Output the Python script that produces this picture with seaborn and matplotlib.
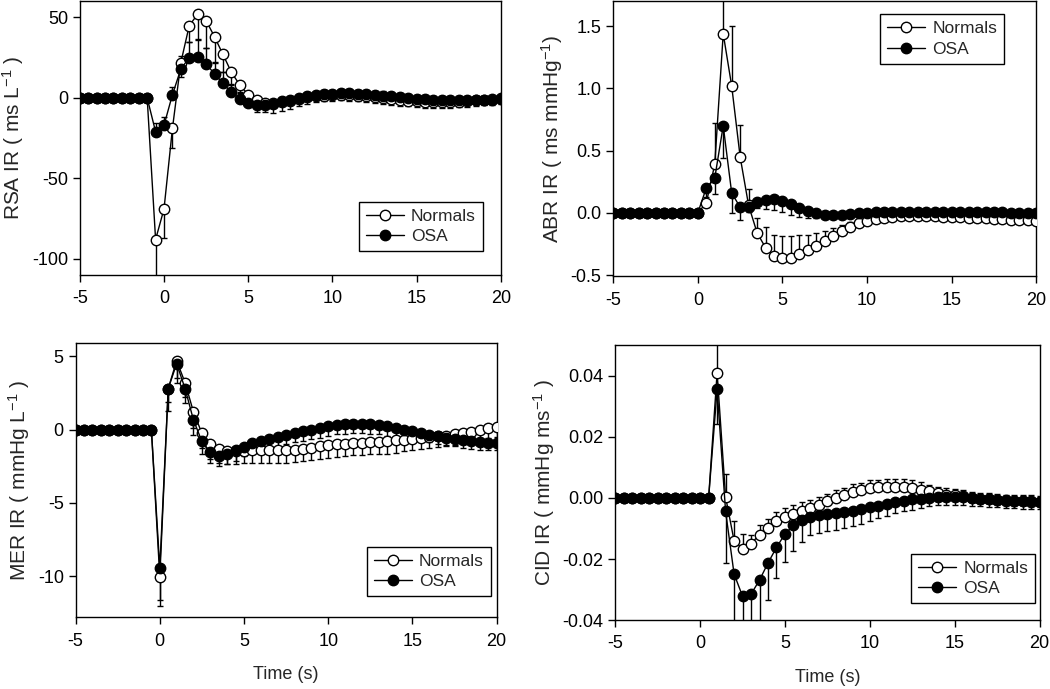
import matplotlib
matplotlib.use("Agg")
import matplotlib.pyplot as plt
import numpy as np
import seaborn as sns

# time axis, 0.5 s steps from -5 to 20 s
time = np.arange(-5, 20.25, 0.5)

# RSA impulse response (ms/L)
rsa_normals = [0, 0, 0, 0, 0, 0, 0, 0, 0,
               -88, -69, -19, 22, 45, 52, 48, 38, 27, 16, 8, 2, -1.5, -3, -3.2, -2.8, -2,
               -0.8, 0.3, 1, 1.5, 1.8, 2, 1.8, 1.5, 1, 0.4, -0.2, -0.8, -1.3, -1.8, -2.2,
               -2.5, -2.6, -2.6, -2.5, -2.3, -2, -1.6, -1.1, -0.6, -0.1]
rsa_osa = [0, 0, 0, 0, 0, 0, 0, 0, 0,
           -21, -17, 2, 18, 25, 25.5, 21, 15, 9, 3.5, -0.5, -3, -4.3, -4.3, -3.5, -2.2, -1,
           0.1, 1, 1.7, 2.2, 2.6, 2.9, 2.9, 2.7, 2.4, 2, 1.5, 1, 0.5, 0, -0.4,
           -0.8, -1.1, -1.3, -1.5, -1.6, -1.6, -1.5, -1.3, -1.1, -0.9]
rsa_normals_err = [0, 0, 0, 0, 0, 0, 0, 0, 0,
                   40, 18, 12, 9, 10, 16, 17, 16, 11, 8, 5, 4, 7, 6, 6, 5.5, 5,
                   4.5, 4, 3.5, 3.5, 3.5, 3.5, 3.5, 3.5, 3.5, 3.5, 3.5, 3.5, 3.5, 3.5, 3.5,
                   3.5, 3.5, 3.5, 3.5, 3.5, 3.5, 3.5, 3.5, 3.5, 3.5]
rsa_osa_err = [0, 0, 0, 0, 0, 0, 0, 0, 0,
               5.5, 5.3, 5, 8, 10, 11, 10, 7.5, 7, 5, 4, 3, 2.5, 2.5, 2.5, 2.5, 2.5,
               2.5, 2.5, 2.5, 2.5, 2.5, 2.5, 2.5, 2.5, 2.5, 2.5, 2.5, 2.5, 2.5, 2.5, 2.5,
               2.5, 2.5, 2.5, 2.5, 2.5, 2.5, 2.5, 2.5, 2.5, 2.5]

# ABR impulse response (ms/mmHg)
abr_normals = [0, 0, 0, 0, 0, 0, 0, 0, 0, 0, 0,
               0.08, 0.39, 1.44, 1.02, 0.45, 0.06, -0.16, -0.28, -0.345, -0.365, -0.36, -0.33,
               -0.30, -0.265, -0.225, -0.185, -0.145, -0.11, -0.083, -0.064, -0.05, -0.038,
               -0.03, -0.025, -0.022, -0.022, -0.024, -0.027, -0.03, -0.033, -0.036, -0.039,
               -0.042, -0.045, -0.048, -0.051, -0.054, -0.057, -0.06, -0.062]
abr_osa = [0, 0, 0, 0, 0, 0, 0, 0, 0, 0, 0,
           0.2, 0.28, 0.70, 0.16, 0.045, 0.045, 0.085, 0.105, 0.11, 0.095, 0.07, 0.04,
           0.012, -0.005, -0.015, -0.018, -0.017, -0.01, -0.003, 0.002, 0.005, 0.007,
           0.008, 0.008, 0.008, 0.008, 0.007, 0.007, 0.006, 0.006, 0.005, 0.005,
           0.004, 0.004, 0.003, 0.003, 0.002, 0.002, 0.002, 0.001]
abr_normals_err = [0, 0, 0, 0, 0, 0, 0, 0, 0, 0, 0,
                   0.05, 0.33, 0.5, 0.48, 0.26, 0.135, 0.12, 0.17, 0.17, 0.18, 0.17, 0.15,
                   0.12, 0.1, 0.08, 0.065, 0.05, 0.035, 0.025, 0.02, 0.015, 0.015,
                   0.015, 0.015, 0.015, 0.015, 0.015, 0.015, 0.015, 0.015, 0.015, 0.015,
                   0.015, 0.015, 0.015, 0.015, 0.015, 0.015, 0.015, 0.015]
abr_osa_err = [0, 0, 0, 0, 0, 0, 0, 0, 0, 0, 0,
               0.15, 0.13, 0.26, 0.16, 0.1, 0.04, 0.05, 0.075, 0.085, 0.09, 0.085, 0.075,
               0.05, 0.04, 0.03, 0.025, 0.02, 0.015, 0.01, 0.01, 0.01, 0.01,
               0.01, 0.01, 0.01, 0.01, 0.01, 0.01, 0.01, 0.01, 0.01, 0.01,
               0.01, 0.01, 0.01, 0.01, 0.01, 0.01, 0.01, 0.01]

# MER impulse response (mmHg/L)
mer_normals = [0, 0, 0, 0, 0, 0, 0, 0, 0, 0,
               -10.05, 2.8, 4.7, 3.2, 1.2, -0.25, -1.0, -1.35, -1.45, -1.47, -1.45, -1.42,
               -1.4, -1.4, -1.4, -1.4, -1.37, -1.3, -1.23, -1.14, -1.07, -1.0, -0.96,
               -0.91, -0.89, -0.84, -0.82, -0.78, -0.73, -0.68, -0.62, -0.57, -0.5,
               -0.45, -0.4, -0.32, -0.23, -0.16, 0.0, 0.12, 0.2]
mer_osa = [0, 0, 0, 0, 0, 0, 0, 0, 0, 0,
           -9.45, 2.8, 4.5, 2.8, 0.65, -0.8, -1.55, -1.8, -1.65, -1.42, -1.15, -0.92,
           -0.75, -0.62, -0.5, -0.36, -0.22, -0.1, 0.0, 0.11, 0.22, 0.32, 0.38,
           0.41, 0.41, 0.38, 0.32, 0.22, 0.11, 0.0, -0.12, -0.23, -0.34,
           -0.46, -0.55, -0.64, -0.73, -0.8, -0.87, -0.91, -0.92]
mer_normals_err = [0, 0, 0, 0, 0, 0, 0, 0, 0, 0,
                   2.0, 1.5, 1.2, 1.0, 1.1, 1.0, 1.0, 0.95, 0.9, 0.85, 0.85, 0.85,
                   0.85, 0.85, 0.85, 0.85, 0.85, 0.85, 0.85, 0.85, 0.85, 0.85, 0.85,
                   0.85, 0.85, 0.85, 0.85, 0.85, 0.85, 0.8, 0.8, 0.75, 0.75,
                   0.7, 0.7, 0.7, 0.7, 0.7, 0.7, 0.7, 0.7]
mer_osa_err = [0, 0, 0, 0, 0, 0, 0, 0, 0, 0,
               2.2, 0.9, 1.3, 1.0, 1.0, 0.85, 0.75, 0.7, 0.7, 0.7, 0.65, 0.65,
               0.65, 0.65, 0.65, 0.65, 0.65, 0.65, 0.65, 0.65, 0.65, 0.65, 0.65,
               0.65, 0.65, 0.65, 0.65, 0.65, 0.65, 0.6, 0.55, 0.55, 0.5,
               0.5, 0.5, 0.5, 0.5, 0.5, 0.5, 0.5, 0.5]

# CID impulse response (mmHg/ms)
cid_normals = [0, 0, 0, 0, 0, 0, 0, 0, 0, 0, 0, 0,
               0.041, 0.0003, -0.014, -0.0166, -0.015, -0.012, -0.0098, -0.0077, -0.0062,
               -0.0052, -0.0042, -0.0033, -0.0022, -0.0011, 0.0, 0.0009, 0.0019, 0.0025,
               0.0033, 0.0035, 0.0036, 0.0036, 0.0036, 0.0033, 0.0027, 0.0022, 0.0016,
               0.0011, 0.0008, 0.0005, 0.0, -0.0003, -0.0005, -0.0007, -0.0009, -0.001,
               -0.0011, -0.0012, -0.0013]
cid_osa = [0, 0, 0, 0, 0, 0, 0, 0, 0, 0, 0, 0,
           0.0355, -0.0044, -0.0249, -0.0322, -0.0315, -0.0269, -0.0213, -0.0162, -0.0118,
           -0.009, -0.0073, -0.0062, -0.0057, -0.0052, -0.0049, -0.0046, -0.0042, -0.0036,
           -0.0031, -0.0025, -0.002, -0.0014, -0.0009, -0.0005, -0.0002, 0.0, 0.0002,
           0.0003, 0.0003, 0.0002, 0.0, -0.0002, -0.0004, -0.0006, -0.0008, -0.0009,
           -0.001, -0.0011, -0.0012]
cid_normals_err = [0, 0, 0, 0, 0, 0, 0, 0, 0, 0, 0, 0,
                   0.015, 0.0076, 0.0063, 0.0048, 0.003, 0.003, 0.003, 0.003, 0.003,
                   0.003, 0.003, 0.0025, 0.0025, 0.0025, 0.0025, 0.0025, 0.0025, 0.0025,
                   0.0025, 0.0025, 0.0025, 0.0025, 0.0025, 0.0025, 0.0025, 0.002, 0.002,
                   0.002, 0.002, 0.002, 0.002, 0.002, 0.002, 0.002, 0.002, 0.002,
                   0.002, 0.002, 0.002]
cid_osa_err = [0, 0, 0, 0, 0, 0, 0, 0, 0, 0, 0, 0,
               0.0113, 0.017, 0.02, 0.02, 0.02, 0.02, 0.012, 0.010, 0.0092,
               0.0083, 0.007, 0.0058, 0.0058, 0.0057, 0.0055, 0.0053, 0.005, 0.0048,
               0.0045, 0.0042, 0.004, 0.0037, 0.0035, 0.0033, 0.003, 0.0025, 0.0025,
               0.0025, 0.0025, 0.0025, 0.0025, 0.0025, 0.0025, 0.0025, 0.0025, 0.0025,
               0.0025, 0.0025, 0.0025]

sns.set_style("ticks")
plt.rcParams["font.family"] = ["Liberation Sans", "DejaVu Sans"]
plt.rcParams["mathtext.default"] = "regular"
plt.rcParams["axes.unicode_minus"] = False

fig = plt.figure(figsize=(10.5, 6.89), dpi=100)

panels = [
    # rect, normals, osa, normals err, osa err, normals dir, osa dir, ylim, yticks, fmt, ylabel, legend loc, anchor
    ([0.076, 0.601, 0.401, 0.397], rsa_normals, rsa_osa, rsa_normals_err, rsa_osa_err,
     "down", "up", (-110, 60), [-100, -50, 0, 50], "{:.0f}",
     r"RSA IR ( ms L$^{-1}$ )", "lower right", (0.957, 0.087)),
    ([0.584, 0.599, 0.403, 0.399], abr_normals, abr_osa, abr_normals_err, abr_osa_err,
     "up", "down", (-0.51, 1.7), [-0.5, 0.0, 0.5, 1.0, 1.5], "{:.1f}",
     r"ABR IR ( ms mmHg$^{-1}$)", "upper right", (0.924, 0.953)),
    ([0.072, 0.104, 0.401, 0.398], mer_normals, mer_osa, mer_normals_err, mer_osa_err,
     "down", "down", (-12.8, 5.9), [-10, -5, 0, 5], "{:.0f}",
     r"MER IR ( mmHg L$^{-1}$ )", "lower right", (0.986, 0.077)),
    ([0.586, 0.100, 0.404, 0.399], cid_normals, cid_osa, cid_normals_err, cid_osa_err,
     "up", "down", (-0.04, 0.05), [-0.04, -0.02, 0.0, 0.02, 0.04], "{:.2f}",
     r"CID IR ( mmHg ms$^{-1}$ )", "lower right", (0.99, 0.062)),
]

for idx, (rect, normals, osa, n_err, o_err, n_dir, o_dir, ylim, yticks, fmt,
          ylabel, loc, anchor) in enumerate(panels):
    ax = fig.add_axes(rect)
    for vals, err, direction in [(normals, n_err, n_dir), (osa, o_err, o_dir)]:
        err = np.asarray(err)
        zeros = np.zeros_like(err)
        yerr = [err, zeros] if direction == "down" else [zeros, err]
        ax.errorbar(time, vals, yerr=yerr, fmt="none", ecolor="black",
                    elinewidth=1, capsize=2.5, capthick=1, zorder=2)
    sns.lineplot(x=time, y=normals, ax=ax, color="black", linewidth=1, marker="o",
                 markersize=7.5, markerfacecolor="white", markeredgecolor="black",
                 markeredgewidth=1, label="Normals", zorder=3)
    sns.lineplot(x=time, y=osa, ax=ax, color="black", linewidth=1, marker="o",
                 markersize=7.5, markerfacecolor="black", markeredgecolor="black",
                 markeredgewidth=1, label="OSA", zorder=4)

    ax.set_xlim(-5, 20)
    ax.set_xticks([-5, 0, 5, 10, 15, 20])
    ax.set_ylim(*ylim)
    ax.set_yticks(yticks)
    ax.set_yticklabels([fmt.format(v) for v in yticks])
    ax.tick_params(direction="out", length=5, width=1, labelsize=13, colors="black",
                   top=False, right=False)
    ax.tick_params(axis="x", pad=6)
    for spine in ax.spines.values():
        spine.set_color("black")
        spine.set_linewidth(1)
    ax.set_ylabel(ylabel, fontsize=15, labelpad=4)
    if idx >= 2:
        ax.set_xlabel("Time (s)", fontsize=13, labelpad=12)
    else:
        ax.set_xlabel("")
    leg = ax.legend(loc=loc, bbox_to_anchor=anchor, borderaxespad=0, frameon=True,
                    fancybox=False, edgecolor="black", fontsize=12.5, handlelength=2.2,
                    handletextpad=0.4, borderpad=0.4, labelspacing=0.3)
    leg.get_frame().set_linewidth(1)
    leg.get_frame().set_alpha(1)

fig.savefig("out.png", dpi=100)
